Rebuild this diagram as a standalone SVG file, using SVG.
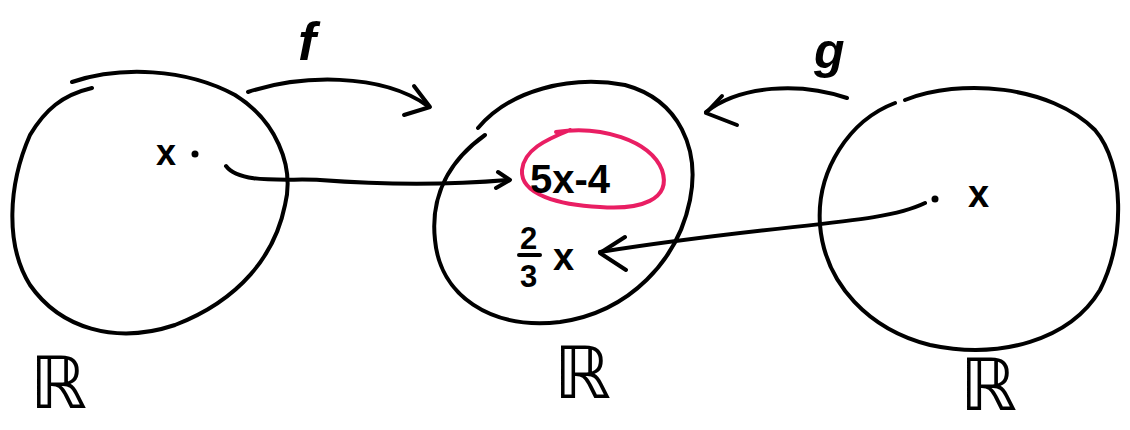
<svg xmlns="http://www.w3.org/2000/svg" width="1130" height="430" viewBox="0 0 1130 430">
<style>
.s{fill:none;stroke:#000;stroke-width:4;stroke-linecap:round;stroke-linejoin:round}
.t{font-family:"Liberation Sans","DejaVu Sans",sans-serif;fill:#000;font-weight:bold}
.i{font-style:italic}
.r{font-family:"DejaVu Sans",sans-serif;fill:#000;font-size:72px}
.p{fill:none;stroke:#e91e63;stroke-width:4;stroke-linecap:round}
</style>
<rect width="1130" height="430" fill="#fff"/>
<g id="left-set">
<path class="s" d="M72,82 C120,66 185,68 235,95 C275,120 295,165 285,205 C275,255 240,300 175,325 C115,345 60,328 30,285 C5,245 8,185 30,135 C45,110 62,95 92,88"/>
<text class="t" x="156" y="165" font-size="36">x</text>
<circle cx="195" cy="154" r="3.5"/>
<text class="r" x="30" y="408">ℝ</text>
</g>
<g id="middle-set">
<path class="s" d="M478,128 C510,90 570,75 625,85 C680,100 700,150 690,200 C678,260 630,312 560,322 C490,330 440,295 435,240 C430,195 450,160 485,135"/>
<path class="p" d="M556,132 C600,125 650,140 662,170 C672,200 640,210 600,207 C560,205 520,195 522,170 C524,150 545,140 570,130"/>
<text class="t" x="530" y="193" font-size="40">5x-4</text>
<text class="t" x="520" y="249" font-size="31">2</text>
<line class="s" x1="519" y1="255" x2="540" y2="255" stroke-width="3.5"/>
<text class="t" x="520" y="287" font-size="31">3</text>
<text class="t" x="553" y="270" font-size="38">x</text>
<text class="r" x="554" y="398">ℝ</text>
</g>
<g id="right-set">
<path class="s" d="M905,100 C960,78 1050,85 1095,130 C1125,165 1125,240 1100,290 C1070,340 1000,360 930,345 C870,330 825,285 820,225 C816,170 850,120 895,103"/>
<circle cx="935" cy="199" r="3.5"/>
<text class="t" x="968" y="207" font-size="38">x</text>
<text class="r" x="960" y="410">ℝ</text>
</g>
<g id="connectors">
<path class="s" d="M248,92 C300,75 380,72 428,106"/>
<path class="s" d="M414,86 L430,107 L404,115"/>
<path class="s" d="M847,98 C800,82 740,85 706,112"/>
<path class="s" d="M722,96 L706,113 L737,125"/>
<path class="s" d="M226,166 C240,185 290,178 320,180 C400,186 460,184 508,180"/>
<path class="s" d="M498,172 L510,180 L496,188"/>
<path class="s" d="M925,203 C880,225 790,222 600,252"/>
<path class="s" d="M625,237 L600,253 L626,270"/>
</g>
<g id="labels">
<text class="t i" x="298" y="60" font-size="54">f</text>
<text class="t i" x="814" y="68" font-size="50">g</text>
</g>
</svg>
